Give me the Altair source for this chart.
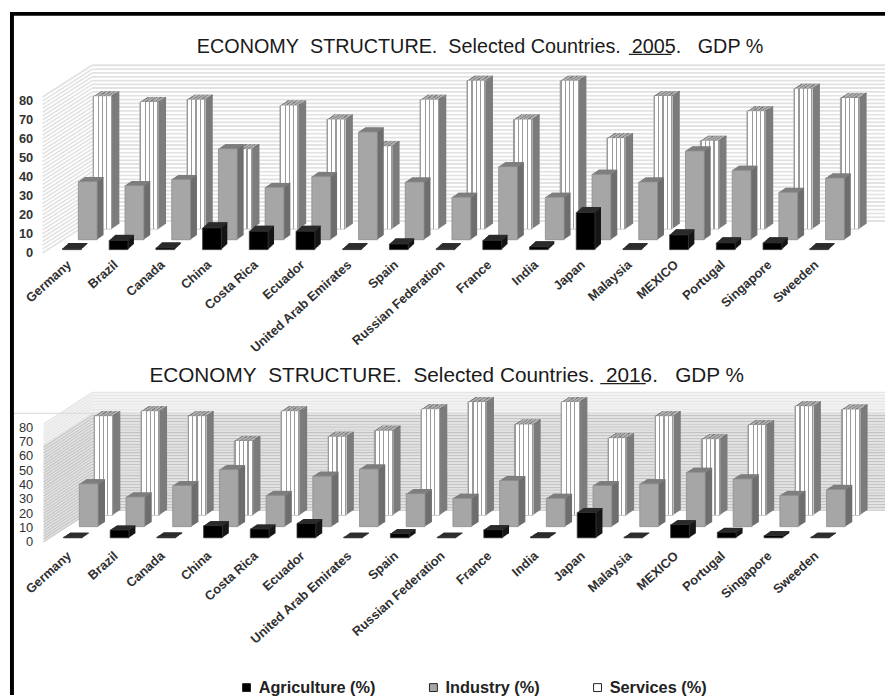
import altair as alt
import pandas as pd

countries = ["Germany", "Brazil", "Canada", "China", "Costa Rica", "Ecuador", "United Arab Emirates", "Spain",
             "Russian Federation", "France", "India", "Japan", "Malaysia", "MEXICO", "Portugal", "Singapore", "Sweeden"]

agr_2005 = [0.6, 4.9, 0.9, 11.5, 9.7, 9.7, 0.5, 3.0, 0.5, 4.9, 1.5, 19.6, 0.5, 7.8, 3.6, 3.6, 0.5]
ind_2005 = [30.7, 28.6, 31.8, 47.9, 27.6, 33.3, 56.8, 30.4, 22.4, 38.5, 22.4, 34.5, 30.4, 46.8, 36.6, 25.0, 32.5]
ser_2005 = [69.8, 66.8, 68.0, 42.0, 65.0, 57.6, 43.5, 68.0, 78.0, 57.6, 78.0, 47.8, 70.0, 46.4, 62.0, 73.8, 69.0]

agr_2016 = [0.5, 5.5, 0.6, 8.5, 6.2, 10.1, 0.5, 3.0, 0.5, 5.7, 0.7, 17.7, 0.5, 9.2, 3.9, 1.6, 0.5]
ind_2016 = [29.9, 20.7, 28.7, 39.8, 21.8, 35.2, 40.2, 23.0, 19.8, 32.2, 19.8, 28.7, 29.9, 37.9, 33.3, 21.8, 26.0]
ser_2016 = [69.0, 72.4, 69.0, 51.7, 72.4, 54.7, 58.9, 73.8, 78.8, 63.2, 78.8, 53.6, 69.0, 52.9, 62.8, 75.9, 73.6]

series_names = ["Agriculture (%)", "Industry (%)", "Services (%)"]
series_colors = ["#000000", "#a6a6a6", "#ffffff"]
y_ticks = [0, 10, 20, 30, 40, 50, 60, 70, 80]
wall_levels = list(range(0, 83))

FONT = "Liberation Sans"
PLOT_W = 803
BAR_W = 19
STEPS = 8


def stripes(line, gap):
    edges = [(0.0, 0.07), (0.25, 0.31), (0.47, 0.53), (0.70, 0.76), (0.93, 1.0)]
    stops = []
    for a, b in edges:
        stops += [alt.GradientStop(color=gap, offset=max(a - 0.0001, 0)),
                  alt.GradientStop(color=line, offset=a),
                  alt.GradientStop(color=line, offset=b),
                  alt.GradientStop(color=gap, offset=min(b + 0.0001, 1))]
    return alt.LinearGradient(gradient="linear", stops=stops)


def panel(values, height, shift0, title_text, title_size, title_xy, depth, geom, frame, legend, under, seam, wall_colors):
    scale_y = alt.Scale(domain=[0, 82], nice=False, zero=True)
    scale_x = alt.Scale(domain=countries, paddingInner=0, paddingOuter=0)
    x_axis = alt.Axis(title=None, domain=False, ticks=False, labelAngle=-42, labelAlign="right", labelBaseline="middle",
                      labelFont=FONT, labelFontSize=13, labelFontWeight="bold", labelColor="#303030",
                      labelOffset=-2.5, labelPadding=geom["xpad"], labelOverlap=False, labelLimit=300, grid=False)
    y_axis = alt.Axis(title=None, domain=False, ticks=False, values=y_ticks, labelFont=FONT, labelFontSize=13,
                      labelFontWeight="bold" if geom["ybold"] else "normal", labelColor="#333333",
                      labelPadding=geom["ypad"], grid=False)
    x_enc = alt.X("country:N", sort=countries, scale=scale_x, axis=x_axis)
    y_enc = alt.Y("value:Q", scale=scale_y, axis=y_axis, stack=None)
    y2_zero = alt.Y2("floor:Q")

    layers = []
    walls = pd.DataFrame({"level": wall_levels})
    walls["shade"] = [wall_colors(v) for v in wall_levels]
    dx, dy = depth
    left = -geom["wall_left"]
    y_lvl = alt.Y("level:Q", scale=scale_y, axis=y_axis)
    back = alt.Chart(walls).mark_rule(strokeWidth=geom["wall_w"], yOffset=-dy).encode(
        x=alt.value(left + dx), x2=alt.value(geom["wall_right"]), y=y_lvl,
        color=alt.Color("shade:N", scale=None))
    side = alt.Chart(walls).mark_rule(strokeWidth=geom["wall_w"], y2Offset=-dy).encode(
        x=alt.value(left), x2=alt.value(left + dx), y=y_lvl, y2=alt.Y2("level:Q"),
        color=alt.Color("shade:N", scale=None))
    layers += [side, back]
    if seam is not None:
        layers.append(alt.Chart(pd.DataFrame({"s": [0]})).mark_rule(color="#dedede", strokeWidth=1.2).encode(
            x=alt.value(-36), x2=alt.value(geom["wall_right"]), y=alt.value(seam)))

    spec = [
        ("Services (%)", values[2], 31, geom["base"][2], geom["d"][2], "#7c7c7c", stripes("#6f6f6f", "#b5b5b5")),
        ("Industry (%)", values[1], 16, geom["base"][1], geom["d"][1], "#6e6e6e", "#808080"),
        ("Agriculture (%)", values[0], 0, geom["base"][0], geom["d"][0], "#161616", "#2e2e2e"),
    ]
    for name, vals, sh, base, (ddx, ddy), side_col, top_col in spec:
        df = pd.DataFrame({"country": countries, "value": vals, "series": name, "floor": 0})
        sh = sh + shift0
        for k in range(STEPS, 0, -1):
            f = k / STEPS
            layers.append(alt.Chart(df).mark_bar(size=BAR_W, orient="vertical", color=side_col,
                                                 xOffset=sh + ddx * f, yOffset=base - ddy * f,
                                                 y2Offset=base - ddy * f).encode(x=x_enc, y=y_enc, y2=y2_zero))
        for k in range(STEPS, 0, -1):
            f = k / STEPS
            layers.append(alt.Chart(df).mark_bar(size=BAR_W, orient="vertical", color=top_col,
                                                 xOffset=sh + ddx * f, yOffset=base - ddy * f,
                                                 y2Offset=base - ddy * f + ddy / STEPS + 0.25).encode(
                x=x_enc, y=y_enc, y2=alt.Y2("value:Q")))
        stroke = {"Services (%)": "#8a8a8a", "Industry (%)": "#8d8d8d", "Agriculture (%)": "#3a3a3a"}[name]
        face = alt.Chart(df).mark_bar(size=BAR_W, orient="vertical", stroke=stroke, strokeWidth=0.8,
                                      xOffset=sh, yOffset=base, y2Offset=base)
        if legend is not None:
            enc = face.encode(x=x_enc, y=y_enc, y2=y2_zero, color=alt.Color("series:N", scale=alt.Scale(domain=series_names, range=series_colors), legend=legend))
        else:
            col = {"Services (%)": "#ffffff", "Industry (%)": "#a6a6a6", "Agriculture (%)": "#000000"}[name]
            enc = face.encode(x=x_enc, y=y_enc, y2=y2_zero, color=alt.value(col))
        layers.append(enc)
        if name == "Services (%)":
            layers.append(alt.Chart(df).mark_bar(size=BAR_W, orient="vertical", color=stripes("#9a9a9a", "#ffffff"),
                                                 xOffset=sh, yOffset=base, y2Offset=base).encode(x=x_enc, y=y_enc, y2=y2_zero))

    one = pd.DataFrame({"s": [0]})
    layers.append(alt.Chart(pd.DataFrame({"label": [title_text]})).mark_text(
        font=FONT, fontSize=title_size, color="#1a1a1a", align="left", baseline="middle").encode(
        text="label:N", x=alt.value(title_xy[0]), y=alt.value(title_xy[1])))
    layers.append(alt.Chart(one).mark_rule(color="#222222", strokeWidth=1.2).encode(
        x=alt.value(under[0]), x2=alt.value(under[1]), y=alt.value(under[2])))
    for rule in frame:
        layers.append(alt.Chart(one).mark_rule(color="#000000", strokeWidth=4).encode(**rule))

    return alt.layer(*layers).properties(width=PLOT_W, height=height)


nb = "\u00a0"
t1 = f"ECONOMY{nb}{nb}STRUCTURE.{nb}{nb}Selected Countries.{nb}{nb}2005.{nb}{nb}{nb}GDP %"
t2 = f"ECONOMY{nb}{nb}STRUCTURE.{nb}{nb}Selected Countries.{nb}{nb}2016.{nb}{nb}{nb}GDP %"

h1 = 82 * 1.92
h2 = 82 * 1.45

top_panel = panel(
    [agr_2005, ind_2005, ser_2005], h1, 0, t1, 20, (150, -50), (50, 32),
    dict(xpad=10, ypad=16, ybold=True, wall_left=6, wall_right=846, wall_w=1.92,
         base=[-3, -13, -24], d=[(6, 5.5), (6.5, 4.5), (7.5, 5)]),
    [dict(x=alt.value(-37), y=alt.value(-84), y2=alt.value(268)),
     dict(x=alt.value(-39), x2=alt.value(846), y=alt.value(-84))],
    None, (587, 630, -43), None,
    lambda v: "#e2e2e2" if v % 2 == 0 else "#ffffff",
)
bottom_panel = panel(
    [agr_2016, ind_2016, ser_2016], h2, 1, t2, 21, (102, -49), (49, 32),
    dict(xpad=12, ypad=16, ybold=False, wall_left=5, wall_right=846, wall_w=1.45,
         base=[-4, -15.3, -27], d=[(6.5, 4.4), (7, 4.5), (7.5, 5)]),
    [dict(x=alt.value(-37), y=alt.value(-63), y2=alt.value(274))],
    alt.Legend(orient="none", legendX=192, legendY=589, direction="horizontal", title=None, columns=3, symbolType="square",
               symbolSize=64, symbolStrokeColor="#222222", symbolStrokeWidth=1, labelFont=FONT, labelFontSize=16.5,
               labelFontWeight="bold", labelColor="#222222", columnPadding=50, labelOffset=4),
    (558, 604, -41), -11,
    lambda v: ("#e6e6e6" if v % 2 == 0 else "#f2f2f2") if v >= 68 else ("#c4c4c4" if v % 2 == 0 else "#e2e2e2"),
)

chart = alt.vconcat(top_panel, bottom_panel, spacing=-4, padding=0,
                    background="white").configure_view(stroke=None)

chart.save("out.html", embed_options={"renderer": "svg", "actions": False})
